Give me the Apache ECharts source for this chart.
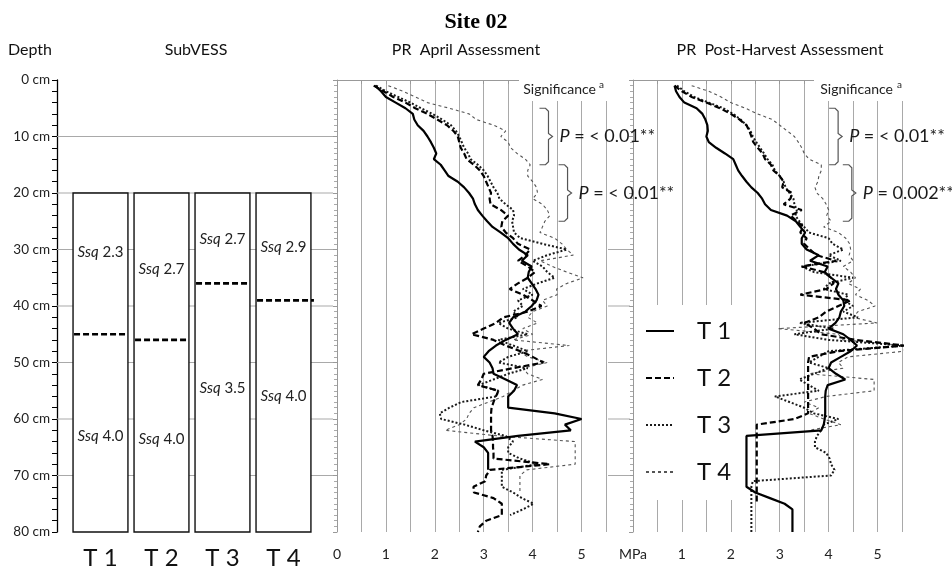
<!DOCTYPE html>
<html>
<head>
<meta charset="utf-8">
<script src="https://cdn.jsdelivr.net/npm/echarts@6/dist/echarts.min.js"></script>
<style>
  html, body { margin: 0; padding: 0; background: #fff; }
  #chart { width: 952px; height: 571px; }
</style>
</head>
<body>
<div id="chart"></div>
<script>
// ---------- data ----------
const treatments = ['T 1', 'T 2', 'T 3', 'T 4'];

// SubVESS: horizon boundary depth (cm) and Ssq scores above / below it
const subTopCm = 20;
const subBottomCm = 80;
const boundaryCm = [45, 46, 36, 39];
const ssqUpper = ['2.3', '2.7', '2.7', '2.9'];
const ssqLower = ['4.0', '4.0', '3.5', '4.0'];

// penetration-resistance profiles, one reading per cm of depth
const depthCm = [
  1, 2, 3, 4, 5, 6, 7, 8, 9, 10,
  11, 12, 13, 14, 15, 16, 17, 18, 19, 20,
  21, 22, 23, 24, 25, 26, 27, 28, 29, 30,
  31, 32, 33, 34, 35, 36, 37, 38, 39, 40,
  41, 42, 43, 44, 45, 46, 47, 48, 49, 50,
  51, 52, 53, 54, 55, 56, 57, 58, 59, 60,
  61, 62, 63, 64, 65, 66, 67, 68, 69, 70,
  71, 72, 73, 74, 75, 76, 77, 78, 79, 80
];

// April assessment (MPa)
const aprT1 = [
  0.78, 0.9, 1.0, 1.2, 1.4, 1.55, 1.58, 1.65, 1.77, 1.85,
  1.92, 1.98, 2.03, 1.98, 2.12, 2.2, 2.28, 2.47, 2.6, 2.7,
  2.78, 2.82, 2.88, 2.97, 3.07, 3.18, 3.35, 3.5, 3.6, 3.72,
  3.9, 3.78, 3.98, 3.92, 3.9, 3.98, 4.06, 4.12, 4.08, 3.98,
  3.85, 3.6, 3.52, 3.6, 3.7, 3.45, 3.25, 3.1, 3.0, 3.12,
  3.18, 3.2, 3.45, 3.68, 3.62, 3.5, 3.5, 3.5, 4.45, 5.0,
  4.66, 4.78, 3.7, 2.82, 3.0, 3.09, 3.09, 3.09, 3.09, null,
  null, null, null, null, null, null, null, null, null, null
];
const aprT2 = [
  0.75, 0.95, 1.15, 1.4, 1.6, 1.85, 2.05, 2.25, 2.38, 2.47,
  2.5, 2.53, 2.6, 2.65, 2.8, 2.92, 3.0, 3.05, 3.1, 3.15,
  3.12, 3.14, 3.35, 3.5, 3.38, 3.36, 3.45, 3.6, 3.7, 3.95,
  3.85, 3.7, 3.9, 4.05, 3.9, 3.7, 3.53, 3.8, 4.0, 4.18,
  3.9, 3.4, 3.25, 3.0, 2.75, 3.2, 3.45, 3.75, 4.0, 4.22,
  3.6, 3.0, 2.95, 2.88, 3.3, 3.25, 3.2, 3.16, 3.15, 3.15,
  3.15, 3.15, 3.18, 3.19, 3.19, 3.2, 3.2, 4.35, 3.13, 3.05,
  3.03, 2.79, 2.8, 3.2, 3.37, 3.37, 3.37, 3.05, 2.92, 2.88
];
const aprT3 = [
  0.8, 1.0, 1.25, 1.5, 1.72, 1.95, 2.15, 2.33, 2.43, 2.5,
  2.55, 2.6, 2.68, 2.73, 2.88, 3.0, 3.08, 3.14, 3.2, 3.28,
  3.32, 3.45, 3.6, 3.62, 3.58, 3.6, 3.62, 3.75, 4.2, 4.7,
  4.3, 4.0, 4.2, 4.3, 4.45, 4.1, 3.8, 4.0, 3.7, 3.8,
  3.6, 3.7, 3.3, 3.5, 3.9, 3.3, 3.6, 3.9, 3.5, 3.3,
  3.9, 3.5, 3.2, 2.9, 3.3, 3.26, 2.54, 2.3, 2.1, 2.13,
  2.61, 3.0, 3.45, 3.6, 3.5, 3.5, 3.74, 4.1, 3.37, 3.37,
  3.37, 3.37, 3.6, 3.78, 4.02, 3.8, 3.54, null, null, null
];
const aprT4 = [
  1.05, 1.35, 1.6, 1.85, 2.3, 2.7, 2.85, 3.2, 3.45, 3.35,
  3.5, 3.55, 3.68, 3.85, 3.95, 3.9, 3.9, 4.0, 4.08, 4.1,
  4.0, 4.2, 4.3, 4.35, 4.25, 4.2, 4.15, 4.45, 4.6, 4.7,
  4.83, 4.15, 4.4, 4.7, 5.03, 4.7, 4.49, 4.5, 4.2, 4.3,
  4.0, 3.9, 4.1, 3.8, 4.0, 3.6, 4.75, 3.7, 3.9, 4.3,
  3.8, 3.9, 4.2, 3.8, 3.6, 3.4, 3.1, 2.8, 2.7, 2.65,
  2.5, 2.21, 3.3, 4.87, 4.87, 4.87, 4.87, 4.87, 3.88, 3.74,
  3.74, 3.74, 3.74, null, null, null, null, null, null, null
];

// Post-harvest assessment (MPa)
const phT1 = [
  0.85, 0.88, 0.95, 1.05, 1.3, 1.42, 1.48, 1.52, 1.53, 1.5,
  1.55, 1.7, 1.88, 2.05, 2.1, 2.15, 2.23, 2.32, 2.42, 2.55,
  2.64, 2.7, 2.82, 3.15, 3.33, 3.42, 3.52, 3.45, 3.45, 3.55,
  3.8, 3.62, 3.98, 3.92, 4.05, 4.2, 4.15, 4.2, 4.3, 4.32,
  4.25, 4.22, 4.14, 4.0, 4.3, 4.45, 4.58, 4.45, 4.25, 4.05,
  4.0, 4.15, 4.34, 3.98, 3.94, 3.93, 3.93, 3.93, 3.93, 3.92,
  3.9, 3.85, 2.32, 2.32, 2.32, 2.32, 2.32, 2.32, 2.32, 2.32,
  2.32, 2.32, 2.5, 2.8, 3.1, 3.26, 3.26, 3.26, 3.26, 3.26
];
const phT2 = [
  0.85, 1.0, 1.2, 1.5, 1.78, 2.0, 2.18, 2.32, 2.38, 2.42,
  2.46, 2.55, 2.65, 2.7, 2.82, 2.87, 3.0, 3.08, 3.05, 3.25,
  3.22, 3.08, 3.45, 3.22, 3.35, 3.48, 3.42, 3.55, 3.5, 3.62,
  3.75, 4.15, 3.45, 3.9, 4.05, 4.1, 3.95, 3.42, 4.45, 4.2,
  3.95, 3.8, 3.5, 3.7, 3.85, 4.55, 5.55, 4.2, 3.6, 3.58,
  3.58, 3.58, 3.58, 3.58, 3.58, 3.58, 3.58, 3.58, 3.58, 3.3,
  2.53, 2.53, 2.53, 2.53, 2.53, 2.53, 2.53, 2.53, 2.53, 2.53,
  2.53, 2.53, 2.53, 2.53, 2.53, null, null, null, null, null
];
const phT3 = [
  0.9, 1.05, 1.25, 1.55, 1.85, 2.05, 2.2, 2.32, 2.4, 2.45,
  2.52, 2.6, 2.68, 2.75, 2.85, 2.9, 3.0, 3.08, 3.12, 3.2,
  3.28, 3.3, 3.35, 3.32, 3.4, 3.5, 3.6, 4.0, 4.08, 4.3,
  4.0, 4.25, 3.45, 3.7, 4.5, 4.0, 3.9, 4.4, 4.3, 4.5,
  4.3, 4.6, 3.4, 4.1, 3.3, 4.0, 5.55, 4.0, 3.8, 3.6,
  4.0, 3.7, 3.4, 3.6, 3.8, 2.9, 3.2, 3.5, 3.7, 4.2,
  3.9, 3.85, 3.76, 3.72, 3.72, 3.95, 4.02, 4.05, 4.12, 4.05,
  2.45, 2.42, 2.42, 2.42, 2.42, 2.42, 2.42, 2.42, 2.42, 2.42
];
const phT4 = [
  1.2, 1.55, 1.8, 2.0, 2.3, 2.55, 2.85, 3.0, 3.15, 3.3,
  3.38, 3.45, 3.5, 3.6, 3.85, 3.85, 3.8, 3.78, 3.72, 3.76,
  3.88, 3.95, 4.0, 3.96, 4.05, 3.9, 4.2, 4.35, 4.43, 4.45,
  4.42, 4.5, 4.3, 4.45, 4.55, 4.4, 4.65, 4.55, 4.8, 4.95,
  4.6, 4.5, 4.99, 2.97, 4.2, 4.3, 5.55, 5.55, 4.4, 4.2,
  4.3, 3.6, 4.93, 4.93, 4.93, 3.96, 3.5, 3.8, 3.6, 3.9,
  4.25, 3.6, null, null, null, null, null, null, null, null,
  null, null, null, null, null, null, null, null, null, null
];

// significance of treatment differences per depth layer
const sigLayersCm = [[5, 15], [15, 25]];
const aprilSig = ['< 0.01**', '< 0.01**'];
const harvestSig = ['< 0.01**', '0.002**'];

// axis ticks
const depthTicks = [0, 10, 20, 30, 40, 50, 60, 70, 80];
const prTickLabels = ['0', '1', '2', '3', '4', '5'];

// ---------- styling / layout ----------
const FONT = 'Lato, "Noto Sans", "DejaVu Sans", sans-serif';
const GRID_GREY = '#a9a9a9';
const treatmentLines = [
  { color: '#000', width: 2.2, type: 'solid' },
  { color: '#000', width: 2.2, type: [6, 3] },
  { color: '#1a1a1a', width: 2, type: [2, 2] },
  { color: '#555', width: 1.1, type: [3, 3] }
];
// depth at which each Ssq label sits inside its box
const ssqLabelUpperCm = [30.5, 33.5, 28.2, 29.6];
const ssqLabelLowerCm = [63, 63.5, 54.5, 56];
const braceX = { april: [4.14, 4.53], harvest: [4.01, 4.29] };

function profile(values) {
  const pts = [];
  values.forEach((v, i) => { if (v != null) pts.push([v, depthCm[i]]); });
  return pts;
}

const chart = echarts.init(document.getElementById('chart'), null, { renderer: 'canvas' });

// horizontal grid rows drawn as a custom series so they can sit under the boxes
function rowLines(gridIdx, depths, color) {
  return {
    type: 'custom', xAxisIndex: gridIdx, yAxisIndex: gridIdx, z: 1, silent: true,
    data: depths.map(d => [0, d]), encode: { x: 0, y: 1 },
    renderItem: (params, api) => {
      const cs = params.coordSys;
      const y = api.coord([api.value(0), api.value(1)])[1];
      return { type: 'line', shape: { x1: cs.x, y1: y, x2: cs.x + cs.width - 3, y2: y },
               style: { stroke: color, lineWidth: 1 } };
    }
  };
}

// SubVESS boxes
const boxSeries = {
  type: 'custom', xAxisIndex: 0, yAxisIndex: 0, z: 5, silent: true,
  data: treatments.map((t, i) => [i + 1, boundaryCm[i]]), encode: { x: 0, y: 1 },
  renderItem: (params, api) => {
    const i = params.dataIndex;
    const c = api.value(0);
    const tl = api.coord([c - 0.45, subTopCm]);
    const br = api.coord([c + 0.45, subBottomCm]);
    const yb = api.coord([c, api.value(1)])[1];
    const yu = api.coord([c, ssqLabelUpperCm[i]])[1];
    const yl = api.coord([c, ssqLabelLowerCm[i]])[1];
    const cx = (tl[0] + br[0]) / 2;
    const rich = {
      i: { fontStyle: 'italic', fontSize: 15, fontFamily: FONT, fill: '#222' },
      n: { fontSize: 15, fontFamily: FONT, fill: '#222' }
    };
    return {
      type: 'group',
      children: [
        { type: 'rect', shape: { x: tl[0], y: tl[1], width: br[0] - tl[0], height: br[1] - tl[1] },
          style: { fill: '#fff', stroke: '#111', lineWidth: 1.4 } },
        { type: 'line', shape: { x1: tl[0] + 1, y1: yb, x2: br[0] + (i === 3 ? 3 : 0), y2: yb },
          style: { stroke: '#000', lineWidth: 2.6, lineDash: [6, 3] } },
        { type: 'text', x: cx, y: yu,
          style: { text: '{i|Ssq}{n| ' + ssqUpper[i] + '}', rich, align: 'center', verticalAlign: 'middle' } },
        { type: 'text', x: cx, y: yl,
          style: { text: '{i|Ssq}{n| ' + ssqLower[i] + '}', rich, align: 'center', verticalAlign: 'middle' } },
        { type: 'text', x: cx, y: br[1] + 26,
          style: { text: treatments[i], fontSize: 24, fontFamily: FONT, fill: '#111',
                   align: 'center', verticalAlign: 'middle' } }
      ]
    };
  }
};

// curly braces with P values
function braceSeries(gridIdx, xs, texts) {
  return {
    type: 'custom', xAxisIndex: gridIdx, yAxisIndex: gridIdx, z: 6, silent: true, clip: false,
    data: sigLayersCm.map((r, k) => [xs[k], r[0], r[1]]), encode: { x: 0, y: [1, 2] },
    renderItem: (params, api) => {
      const k = params.dataIndex;
      const top = api.coord([api.value(0), api.value(1)]);
      const bot = api.coord([api.value(0), api.value(2)]);
      const x0 = top[0], x1 = x0 + 9, x2 = x1 + 4;
      const yT = top[1], yB = bot[1], yM = (yT + yB) / 2;
      return {
        type: 'group',
        children: [
          { type: 'polyline',
            shape: { points: [[x0, yT], [x1 - 3, yT], [x1, yT + 3], [x1, yM - 3], [x2, yM],
                              [x1, yM + 3], [x1, yB - 3], [x1 - 3, yB], [x0, yB]] },
            style: { stroke: '#555', lineWidth: 1.2, fill: null } },
          { type: 'text', x: x1 + 11, y: yM,
            style: { text: '{i|P}{n| = ' + texts[k] + '}', align: 'left', verticalAlign: 'middle',
                     rich: { i: { fontStyle: 'italic', fontSize: 18, fontFamily: FONT, fill: '#1a1a1a' },
                             n: { fontSize: 18, fontFamily: FONT, fill: '#1a1a1a' } } } }
        ]
      };
    }
  };
}

function prXAxis(gridIdx, zeroLabel) {
  return {
    type: 'value', gridIndex: gridIdx, min: 0, max: 5.5, interval: 0.5,
    axisLine: { show: true, lineStyle: { color: '#999', width: 1 } },
    axisTick: { show: true, length: 4, lineStyle: { color: '#999' } },
    axisLabel: {
      fontSize: 14, fontFamily: FONT, color: '#222', margin: 15,
      formatter: v => {
        if (v === 0) return zeroLabel;
        const idx = prTickLabels.indexOf(String(v));
        return idx >= 0 ? prTickLabels[idx] : '';
      }
    },
    splitLine: { show: true, lineStyle: { color: GRID_GREY, width: 1 } }
  };
}
function prYAxis(gridIdx) {
  return {
    type: 'value', gridIndex: gridIdx, inverse: true, min: 0, max: 80, interval: 10,
    axisLine: { show: true, lineStyle: { color: '#999', width: 1 } },
    axisTick: { show: true, length: 4, lineStyle: { color: '#999' } },
    minorTick: { show: true, splitNumber: 10, length: 3, lineStyle: { color: '#aaa' } },
    axisLabel: { show: false },
    splitLine: { show: false }
  };
}

const lineSeries = [];
[[1, [aprT1, aprT2, aprT3, aprT4]], [2, [phT1, phT2, phT3, phT4]]].forEach(([g, sets]) => {
  for (let k = 3; k >= 0; k--) {
    lineSeries.push({
      name: treatments[k], type: 'line', xAxisIndex: g, yAxisIndex: g,
      data: profile(sets[k]), symbol: 'none', showSymbol: false, clip: true, z: 3 + (3 - k) * 0.1,
      lineStyle: treatmentLines[k], itemStyle: { color: treatmentLines[k].color },
      silent: true, animation: false
    });
  }
});

const option = {
  animation: false,
  backgroundColor: '#fff',
  title: {
    text: 'Site 02', left: 'center', top: 6,
    textStyle: { fontFamily: '"Liberation Serif", "Times New Roman", serif', fontWeight: 'bold', fontSize: 22, color: '#000' }
  },
  legend: {
    data: treatments, orient: 'vertical', left: 636, top: 305,
    itemWidth: 28, itemHeight: 24, itemGap: 23,
    padding: [14, 6, 16, 9], backgroundColor: '#fff', selectedMode: false, z: 8,
    itemStyle: { opacity: 0 },
    textStyle: { fontSize: 24, fontFamily: FONT, color: '#111', lineHeight: 24, padding: [0, 0, 0, 18] }
  },
  grid: [
    { left: 57, top: 80, width: 279, height: 452 },
    { left: 337, top: 80, width: 269, height: 452 },
    { left: 633, top: 80, width: 269, height: 452 },
    { left: 608, top: 80, width: 25, height: 452 }
  ],
  xAxis: [
    { type: 'value', gridIndex: 0, min: 0.287, max: 4.861, show: false },
    prXAxis(1, prTickLabels[0]),
    prXAxis(2, 'MPa'),
    { type: 'value', gridIndex: 3, min: 0, max: 1, show: false }
  ],
  yAxis: [
    {
      type: 'value', gridIndex: 0, inverse: true, min: depthTicks[0], max: depthTicks[depthTicks.length - 1], interval: 10,
      axisLine: { show: true, lineStyle: { color: '#000', width: 1.3 } },
      axisTick: { show: true, length: 5, lineStyle: { color: '#000' } },
      minorTick: { show: true, splitNumber: 5, length: 5, lineStyle: { color: '#000' } },
      axisLabel: { formatter: '{value} cm', fontSize: 13.5, fontFamily: FONT, color: '#222', margin: 7 },
      splitLine: { show: false }
    },
    prYAxis(1),
    prYAxis(2),
    { type: 'value', gridIndex: 3, inverse: true, min: 0, max: 80, show: false }
  ],
  graphic: [
    { type: 'text', x: 8, y: 50, z: 10,
      style: { text: 'Depth', fontSize: 16, fontFamily: FONT, fill: '#111', verticalAlign: 'middle' } },
    { type: 'text', x: 196, y: 50, z: 10,
      style: { text: 'SubVESS', fontSize: 16, fontFamily: FONT, fill: '#111', align: 'center', verticalAlign: 'middle' } },
    { type: 'text', x: 466, y: 50, z: 10,
      style: { text: 'PR  April Assessment', fontSize: 16, fontFamily: FONT, fill: '#111', align: 'center', verticalAlign: 'middle' } },
    { type: 'text', x: 780, y: 50, z: 10,
      style: { text: 'PR  Post-Harvest Assessment', fontSize: 16, fontFamily: FONT, fill: '#111', align: 'center', verticalAlign: 'middle' } },
    { type: 'rect', z: 9, shape: { x: 519, y: 79, width: 89, height: 22 }, style: { fill: '#fff' } },
    { type: 'rect', z: 9, shape: { x: 814, y: 79, width: 90, height: 22 }, style: { fill: '#fff' } },
    { type: 'text', x: 596, y: 89, z: 10,
      style: { text: 'Significance', fontSize: 14, fontFamily: FONT, fill: '#222', align: 'right', verticalAlign: 'middle' } },
    { type: 'text', x: 599, y: 85, z: 10,
      style: { text: 'a', fontSize: 10, fontFamily: FONT, fill: '#222', align: 'left', verticalAlign: 'middle' } },
    { type: 'text', x: 893, y: 89, z: 10,
      style: { text: 'Significance', fontSize: 14, fontFamily: FONT, fill: '#222', align: 'right', verticalAlign: 'middle' } },
    { type: 'text', x: 897, y: 85, z: 10,
      style: { text: 'a', fontSize: 10, fontFamily: FONT, fill: '#222', align: 'left', verticalAlign: 'middle' } }
  ],
  series: [
    rowLines(0, [10, 20, 30, 40, 50, 60, 70], GRID_GREY),
    rowLines(3, [30, 40, 50, 60, 70], GRID_GREY),
    boxSeries,
    ...lineSeries,
    braceSeries(1, braceX.april, aprilSig),
    braceSeries(2, braceX.harvest, harvestSig)
  ]
};

chart.setOption(option);
</script>
</body>
</html>
